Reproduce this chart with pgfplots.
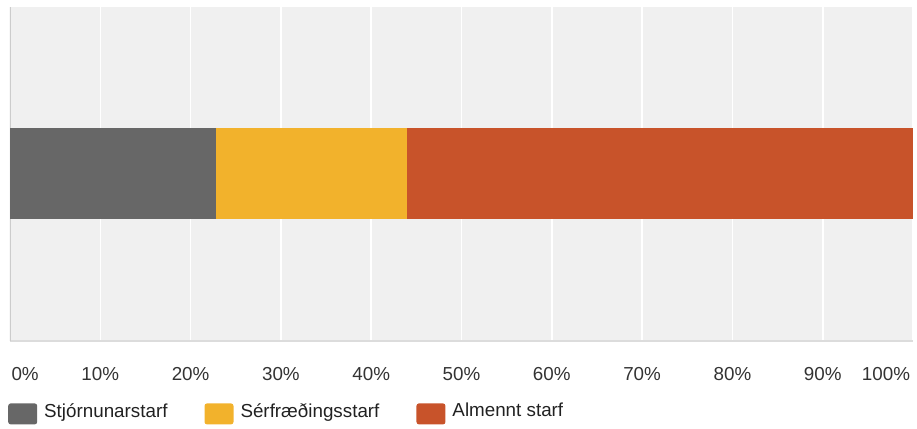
\documentclass[border=0pt]{standalone}
\usepackage{fontspec}
\setmainfont{Liberation Sans}
\usepackage{pgfplots}
\pgfplotsset{compat=1.18}

\definecolor{barGray}{HTML}{676767}
\definecolor{barYellow}{HTML}{F2B22C}
\definecolor{barOrange}{HTML}{C8532A}
\definecolor{plotBg}{HTML}{F0F0F0}
\definecolor{axisLine}{HTML}{CCCCCC}
\definecolor{baseLine}{HTML}{DCDCDC}
\definecolor{tickText}{HTML}{333333}

\begin{document}
\begin{tikzpicture}
\begin{axis}[
  at={(0pt,0pt)}, anchor=south west,
  scale only axis,
  width=903pt, height=334pt,
  xbar stacked,
  bar width=91pt,
  xmin=0, xmax=100,
  ymin=-1, ymax=1,
  ytick=\empty,
  axis background/.style={fill=plotBg},
  axis line style={draw=none},
  xmajorgrids,
  x grid style={white, line width=1.6pt},
  xtick={0,10,...,100},
  xticklabels={\makebox[0pt][l]{\hspace{1.5pt}0\%},10\%,20\%,30\%,40\%,50\%,60\%,70\%,80\%,90\%,\makebox[0pt][r]{100\%\hspace{3pt}}},
  major tick length=0pt,
  tick style={draw=none},
  xticklabel style={anchor=base, yshift=-39pt, text=tickText, font=\fontsize{18.8}{22}\selectfont},
  /pgf/number format/assume math mode=true,
  legend style={
    at={(axis description cs:0,0)}, anchor=north west,
    xshift=-2pt, yshift=-60pt,
    draw=none, fill=none, inner sep=0pt,
    font=\fontsize{18.8}{22}\selectfont, text=black!87,
    /tikz/every odd column/.append style={column sep=5pt},
    /tikz/every even column/.append style={column sep=35pt},
    legend columns=3,
  },
  legend cell align=left,
  legend image code/.code={\fill[#1, rounded corners=2.5pt] (0pt,-13.5pt) rectangle (29pt,7.5pt);},
]
\addplot[fill=barGray, draw=none] coordinates {(22.8,0)};
\addplot[fill=barYellow, draw=none] coordinates {(21.2,0)};
\addplot[fill=barOrange, draw=none] coordinates {(56.0,0)};
\legend{Stjórnunarstarf, Sérfræðingsstarf, Almennt starf}
\draw[axisLine, line width=2pt] (axis cs:0,-1) -- (axis cs:0,1);
\draw[baseLine, line width=3pt] (axis cs:0,-1) -- (axis cs:100,-1);
\end{axis}
\pgfresetboundingbox
\useasboundingbox (-10pt,-87pt) rectangle (907pt,341pt);
\end{tikzpicture}
\end{document}
